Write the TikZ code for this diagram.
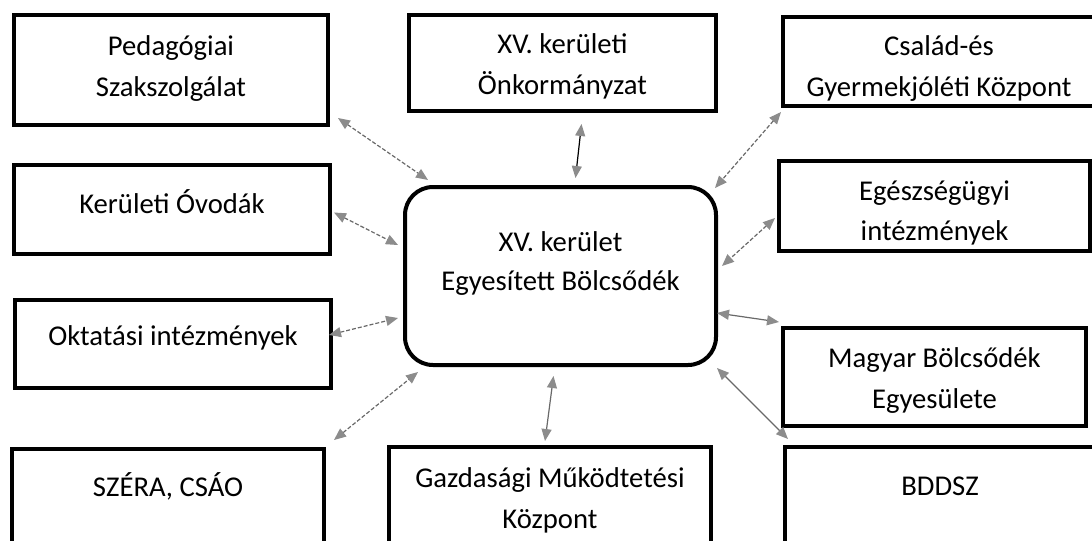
\documentclass[tikz,border=0pt]{standalone}
\usepackage{fontspec}
\setmainfont{Carlito}
\usetikzlibrary{arrows.meta,calc,positioning}
\definecolor{tipgray}{RGB}{140,140,140}
\definecolor{linkgray}{RGB}{105,105,105}
\tikzset{every picture/.style={line width=0.75pt}}
\tikzset{
  box/.style={draw, line width=3pt, inner sep=0pt, fill=white},
  hubbox/.style={box, rounded corners=21pt},
  lbl/.style={anchor=north, inner sep=0pt, align=center, font=\fontsize{21.5}{30.5}\selectfont, execute at begin node=\strut},
  link/.style={<->, >={Triangle[length=9pt,width=7.5pt,color=tipgray]}, draw=linkgray, line width=0.9pt, dash pattern=on 3pt off 1.5pt},
  firm/.style={link, solid, draw=#1},
  firm/.default=linkgray
}

\begin{document}
\begin{tikzpicture}[x=0.75pt,y=0.75pt,yscale=-1,xscale=1]
\useasboundingbox (0,0) rectangle (1092,540);
\clip (0,0) rectangle (1092,540);
%Shape: Rectangle [left column]
\node[box, minimum width=235.5pt, minimum height=82.5pt] (ped) at (171,70) {};
\node[box, minimum width=237pt, minimum height=66.75pt] (ovo) at (172,209.5) {};
\node[box, minimum width=237pt, minimum height=66pt] (okt) at (173,344) {};
\node[box, minimum width=234pt, minimum height=72pt] (szera) at (168,497) {};
%Shape: Rectangle [middle column]
\node[box, minimum width=230.25pt, minimum height=72pt] (onk) at (562.5,63) {};
\node[hubbox, minimum width=233.25pt, minimum height=133.5pt] (hub) at (560.5,276) {};
\node[box, minimum width=241.5pt, minimum height=73.5pt] (gmk) at (550,496) {};
%Shape: Rectangle [right column]
\node[box, minimum width=234pt, minimum height=66.75pt] (csal) at (939,61.5) {};
\node[box, minimum width=233.25pt, minimum height=67.5pt] (eg) at (934.5,206) {};
\node[box, minimum width=227.25pt, minimum height=73.5pt] (mbe) at (934.5,377) {};
\node[box, minimum width=232.5pt, minimum height=73.5pt] (bddsz) at (940,496) {};
% Text Node
\node[lbl] (pedtxt) at ($(ped.north)+(0,22)$) {Pedagógiai\\Szakszolgálat};
% Text Node
\node[lbl] (ovotxt) at ($(ovo.north)+(0,22)$) {Kerületi Óvodák};
% Text Node
\node[lbl] (okttxt) at ($(okt.north)+(0,19)$) {Oktatási intézmények};
% Text Node
\node[lbl] (szeratxt) at ($(szera.north)+(0,21)$) {SZÉRA, CSÁO};
% Text Node
\node[lbl] (onktxt) at ($(onk.north)+(0,20)$) {XV. kerületi\\Önkormányzat};
% Text Node
\node[lbl, font=\fontsize{21.5}{29}\selectfont] (hubtxt) at ($(hub.north)+(0,46)$) {XV. kerület\\Egyesített Bölcsődék};
% Text Node
\node[lbl] (gmktxt) at ($(gmk.north)+(0,22)$) {Gazdasági Működtetési\\Központ};
% Text Node
\node[lbl] (csaltxt) at ($(csal.north)+(0,20)$) {Család-és\\Gyermekjóléti Központ};
% Text Node
\node[lbl] (egtxt) at ($(eg.north)+(0,21)$) {Egészségügyi\\intézmények};
% Text Node
\node[lbl] (mbetxt) at ($(mbe.north)+(0,21)$) {Magyar Bölcsődék\\Egyesülete};
% Text Node
\node[lbl] (bddsztxt) at ($(bddsz.north)+(0,22)$) {BDDSZ};
%Straight Lines
\draw[link] ($(ped.south east)+(8,-9)$) -- ($(hub.north west)+(25,-5)$);
\draw[firm=black] ($(onk.south)+(19,11)$) -- ($(hub.north)+(15,-7)$);
\draw[link] ($(csal.south west)+(0,4)$) -- ($(hub.north east)+(-3,3)$);
\draw[link] ($(ovo.east)+(2,3)$) -- ($(hub.west)+(-5,-31)$);
\draw[link] ($(eg.west)+(-2,12)$) -- ($(hub.east)+(4,-10)$);
\draw[link] ($(okt.east)+(-4,-9)$) -- ($(hub.west)+(-5,42)$);
\draw[firm] ($(mbe.north west)+(-2,-4)$) -- ($(hub.east)+(-1,37)$);
\draw[link] ($(szera.north east)+(8,-7)$) -- ($(hub.south west)+(15,5)$);
\draw[firm] ($(gmk.north)+(-5,-4)$) -- ($(hub.south)+(-7,9)$);
\draw[firm] ($(bddsz.north west)+(5,-6)$) -- ($(hub.south east)+(-1,1)$);
\end{tikzpicture}
\end{document}
